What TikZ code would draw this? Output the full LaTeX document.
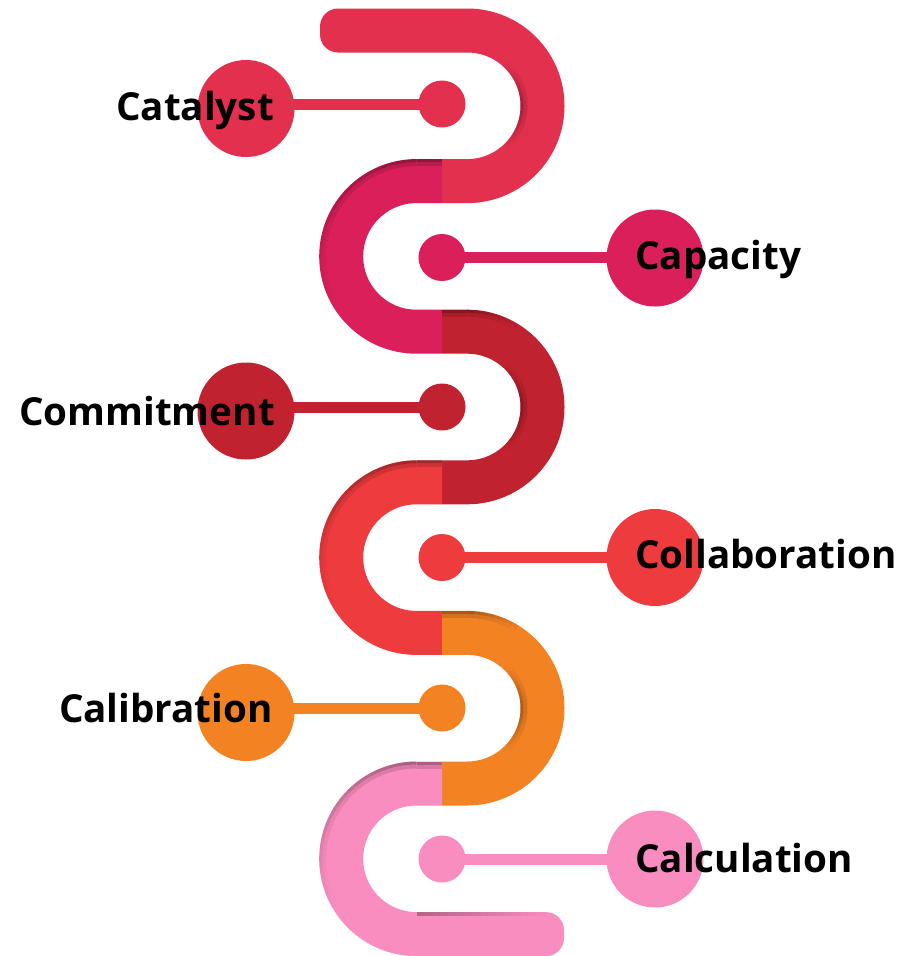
\documentclass[tikz,border=0pt]{standalone}
\usepackage{fontspec}
\setmainfont{Open Sans}
\definecolor{cA}{RGB}{227,48,78}
\definecolor{cB}{RGB}{218,31,91}
\definecolor{cC}{RGB}{193,34,47}
\definecolor{cD}{RGB}{238,59,62}
\definecolor{cE}{RGB}{243,130,35}
\definecolor{cF}{RGB}{250,141,191}
\tikzset{
  band/.style={line width=44pt, line cap=butt},
  dot/.style={circle, inner sep=0pt, minimum size=47pt},
  bigdisc/.style={circle, inner sep=0pt, minimum size=97pt},
  conn/.style={line width=11pt},
  lbl/.style={inner sep=0pt, font=\fontsize{38.6}{40}\selectfont\bfseries, text=black},
}
% soft edge shade along an arc: centre x, centre y, radius, start, step, count, peak opacity, offset of the softer layer
\newcommand\edgeshade[8]{%
  \foreach \i in {0,...,#6} {%
    \pgfmathsetmacro\op{#7*(1-\i/(#6+1))}%
    \pgfmathsetmacro\aa{#4+#5*\i}%
    \pgfmathsetmacro\ab{#4+#5*(\i+1)}%
    \draw[black, opacity=\op, line width=3pt]
      ([shift={(\aa:#3)}]#1,#2) arc[start angle=\aa, end angle=\ab, radius=#3];
    \draw[black, opacity=\op*0.45, line width=4pt]
      ([shift={(\aa:#3+#8)}]#1,#2) arc[start angle=\aa, end angle=\ab, radius=#3+#8];
  }%
}
\begin{document}
\begin{tikzpicture}[x=1pt,y=-1pt]
\useasboundingbox (0,0) rectangle (919,956);
\fill[white] (0,0) rectangle (919,956);

% ---- serpentine track ----
% top bar with rounded left end
\fill[cA] (467.2,8.5) [rounded corners=18pt] -- (320,8.5) -- (320,52.5) [sharp corners] -- (467.2,52.5) -- cycle;
\draw[band, cA] (467,30.5) -- (467.2,30.5) arc[start angle=-90, end angle=90, radius=75.3] -- (442,181.1);
\draw[band, cB] (442,181.1) -- (416.5,181.1) arc[start angle=-90, end angle=-270, radius=75.3] -- (442,331.7);
\draw[band, cC] (442,331.7) -- (467.2,331.7) arc[start angle=-90, end angle=90, radius=75.3] -- (442,482.3);
\draw[band, cD] (442,482.3) -- (416.5,482.3) arc[start angle=-90, end angle=-270, radius=75.3] -- (442,632.9);
\draw[band, cE] (442,632.9) -- (467.2,632.9) arc[start angle=-90, end angle=90, radius=75.3] -- (442,783.5);
\draw[band, cF] (442,783.5) -- (416.5,783.5) arc[start angle=-90, end angle=-270, radius=75.3] -- (480,934.1);
\fill[cF] (479,912.1) [rounded corners=18pt] -- (564,912.1) -- (564,956.1) [sharp corners] -- (479,956.1) -- cycle;

% ---- shading along the track edges ----
% outer edges of the left bends
\foreach \yc in {256.4,557.6,858.8} {
  \fill[black, opacity=0.32] (442,\yc-97.3) rectangle (416.5,\yc-94.3);
  \fill[black, opacity=0.14] (442,\yc-94.3) rectangle (416.5,\yc-90.3);
  \edgeshade{416.5}{\yc}{95.8}{-90}{-4}{29}{0.32}{-3.5}
}
% inner edges of the right bends
\foreach \yc in {105.8,407,708.2} {
  \edgeshade{467.2}{\yc}{54.8}{0}{4}{11}{0.28}{3.5}
  \edgeshade{467.2}{\yc}{54.8}{0}{-4}{11}{0.28}{3.5}
}
% outer edges where the right bends begin
\foreach \yc in {407,708.2} {
  \fill[black, opacity=0.3] (442,\yc-97.3) rectangle (467.2,\yc-94.3);
  \fill[black, opacity=0.12] (442,\yc-94.3) rectangle (467.2,\yc-90.3);
  \edgeshade{467.2}{\yc}{95.8}{-90}{4}{7}{0.3}{-3.5}
}
% upper edge of the bottom bar
\foreach \i in {0,...,15} {
  \pgfmathsetmacro\op{0.28*(1-\i/16)}
  \fill[black, opacity=\op] (416.5+8*\i,912.1) rectangle (424.5+8*\i,915.5);
}

% ---- markers, connectors and labels ----
\node[dot, fill=cA] (d1) at (442,104) {};
\node[dot, fill=cB] (d2) at (442,257.5) {};
\node[dot, fill=cC] (d3) at (442,407) {};
\node[dot, fill=cD] (d4) at (442,557.5) {};
\node[dot, fill=cE] (d5) at (442,708) {};
\node[dot, fill=cF] (d6) at (442,859) {};

\node[bigdisc, fill=cA] (b1) at (246,108.5) {};
\node[bigdisc, fill=cB] (b2) at (655,258) {};
\node[bigdisc, fill=cC] (b3) at (246,411) {};
\node[bigdisc, fill=cD] (b4) at (655,557.5) {};
\node[bigdisc, fill=cE] (b5) at (246,712.5) {};
\node[bigdisc, fill=cF] (b6) at (655,859) {};

\draw[conn, cA] (d1.center) -- (b1.center |- d1.center);
\draw[conn, cB] (d2.center) -- (b2.center |- d2.center);
\draw[conn, cC] (d3.center) -- (b3.center |- d3.center);
\draw[conn, cD] (d4.center) -- (b4.center |- d4.center);
\draw[conn, cE] (d5.center) -- (b5.center |- d5.center);
\draw[conn, cF] (d6.center) -- (b6.center |- d6.center);

\node[lbl, anchor=base east] (t1) at (274,120) {Catalyst};
\node[lbl, anchor=base west] (t2) at (635,269) {Capacity};
\node[lbl, anchor=base east] (t3) at (275,425) {Commitment};
\node[lbl, anchor=base west] (t4) at (635,568) {Collaboration};
\node[lbl, anchor=base east] (t5) at (273,722) {Calibration};
\node[lbl, anchor=base west] (t6) at (635,872) {Calculation};
\end{tikzpicture}
\end{document}
